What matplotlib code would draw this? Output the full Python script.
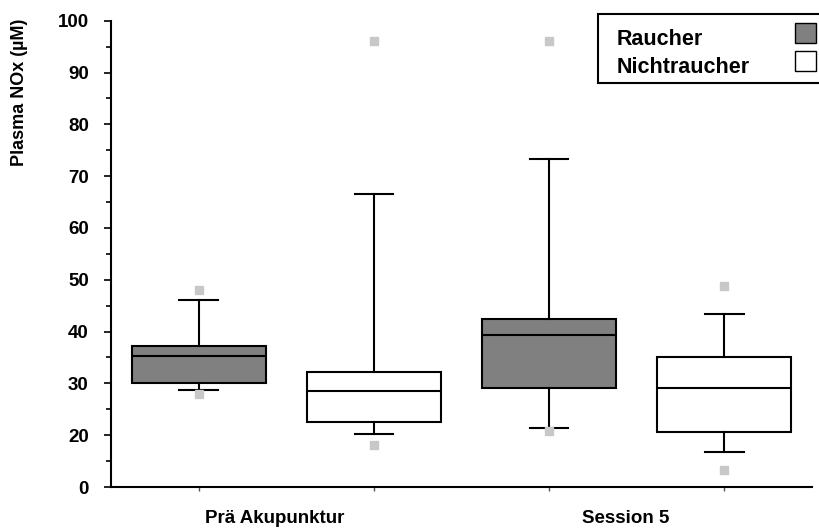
import numpy as np
import matplotlib.pyplot as plt
from matplotlib.patches import Rectangle

plt.rcParams["font.family"] = ["Liberation Sans", "DejaVu Sans"]
plt.rcParams["font.weight"] = "bold"

groups = ["Prä Akupunktur", "Session 5"]
series = ["Raucher", "Nichtraucher"]
q1 = [30.0, 22.5, 29.2, 20.7]
med = [35.3, 28.5, 39.3, 29.2]
q3 = [37.2, 32.1, 42.4, 35.0]
whislo = [28.7, 20.2, 21.3, 16.7]
whishi = [46.1, 66.6, 73.3, 43.3]
out_lo = [28.0, 18.1, 20.8, 13.3]
out_hi = [48.0, 96.0, 96.0, 48.8]
ytick_vals = [10, 20, 30, 40, 50, 60, 70, 80, 90, 100]
ytick_labels = ["0", "20", "30", "40", "50", "60", "70", "80", "90", "100"]
box_colors = ["#808080", "#ffffff"]

W, H = 820, 530
fig = plt.figure(figsize=(W / 100, H / 100), dpi=100)
ax = fig.add_axes([111 / W, 43 / H, 701 / W, 466.3 / H])

stats = []
for i in range(len(med)):
    stats.append(dict(med=med[i], q1=q1[i], q3=q3[i], whislo=whislo[i],
                      whishi=whishi[i], fliers=[out_lo[i], out_hi[i]]))
positions = np.arange(1, len(med) + 1)

bp = ax.bxp(stats, positions=positions, widths=0.765, capwidths=0.22,
            patch_artist=True, showfliers=True,
            boxprops=dict(edgecolor="black", linewidth=1.5),
            medianprops=dict(color="black", linewidth=1.5),
            whiskerprops=dict(color="black", linewidth=1.5),
            capprops=dict(color="black", linewidth=1.5),
            flierprops=dict(marker="s", markersize=5.5, markerfacecolor="#c8c8c8",
                            markeredgecolor="#c8c8c8", linestyle="none"))
for i, box in enumerate(bp["boxes"]):
    box.set_facecolor(box_colors[i % 2])

ax.set_xlim(0.5, 4.5)
ax.set_ylim(10, 100)
ax.set_yticks(ytick_vals)
ax.set_yticklabels(ytick_labels)
ax.set_yticks(np.arange(15, 100, 10), minor=True)
ax.set_xticks(positions)
ax.set_xticklabels([])
ax.tick_params(axis="y", which="major", length=5, width=1.2, pad=11, labelsize=13.5)
ax.tick_params(axis="y", which="minor", length=3.5, width=1.2)
ax.tick_params(axis="x", length=3, width=1, color="#555555")
for lab in ax.get_yticklabels():
    lab.set_fontweight("bold")

ax.spines["top"].set_visible(False)
ax.spines["right"].set_visible(False)
ax.spines["left"].set_linewidth(1.5)
ax.spines["bottom"].set_linewidth(1.5)

# Gruppenbeschriftungen
for g, name in enumerate(groups):
    xc = positions[2 * g:2 * g + 2].mean() - 0.065
    ax.text(xc, -0.05, name, transform=ax.get_xaxis_transform(), ha="center",
            va="top", fontsize=13.5, fontweight="bold")

fig.text(20 / W, 1 - 92 / H, "Plasma NOx (µM)", rotation=90, ha="center",
         va="center", fontsize=13, fontweight="bold")

# Legende (rechts angeschnitten wie im Original)
fig.patches.append(Rectangle((598 / W, 1 - 83 / H), 250 / W, 69 / H,
                             transform=fig.transFigure, facecolor="white",
                             edgecolor="black", linewidth=1.5, zorder=5))
for i, s in enumerate(series):
    base = 45 + i * 27.7
    fig.text(617 / W, 1 - base / H, s, ha="left", va="baseline",
             fontsize=15.5, fontweight="bold", zorder=6)
    fig.patches.append(Rectangle((795 / W, 1 - (base - 2) / H), 21 / W, 20 / H,
                                 transform=fig.transFigure,
                                 facecolor=box_colors[i], edgecolor="black",
                                 linewidth=1, zorder=6))

plt.savefig("out.png", dpi=100)
plt.close()
